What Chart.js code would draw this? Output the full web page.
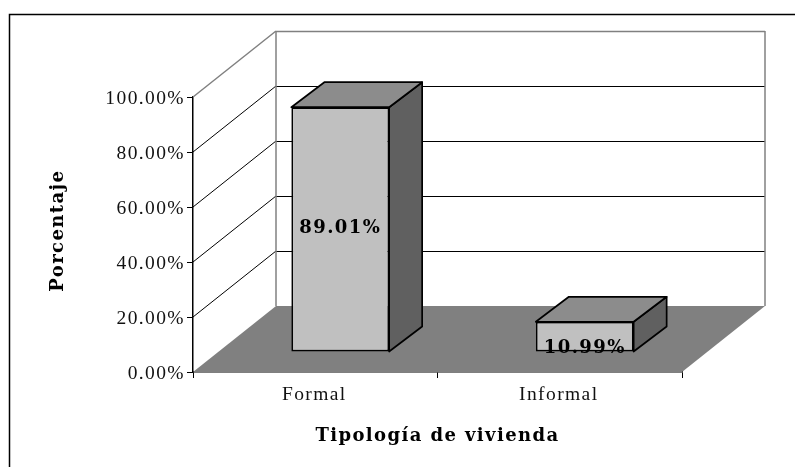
<!DOCTYPE html>
<html><head><meta charset="utf-8">
<style>html,body{margin:0;padding:0;background:#fff}canvas{display:block}</style>
<script src="https://cdn.jsdelivr.net/npm/chart.js@4"></script>
</head><body>
<canvas id="c" width="795" height="467" style="width:795px;height:467px"></canvas>
<script>
const categories = ['Formal','Informal'];
const values = [89.01,10.99];
const valueLabels = ['89.01%','10.99%'];
const yTicks = [0,20,40,60,80,100];
const xTitle = 'Tipología de vivienda';
const yTitle = 'Porcentaje';

const TICK_FONT = '"Liberation Serif"';
const BOLD_FONT = '"DejaVu Serif"';
const DX = 83, DY = 66;       // chart depth
const BX = 25, BY = 20;       // bar front offset
const BDX = 33, BDY = 25;     // bar depth

function poly(ctx, pts, fill, stroke, lw){
  ctx.beginPath();
  pts.forEach((p,i)=> i?ctx.lineTo(p[0],p[1]):ctx.moveTo(p[0],p[1]));
  ctx.closePath();
  if(fill){ctx.fillStyle=fill;ctx.fill();}
  if(stroke){ctx.strokeStyle=stroke;ctx.lineWidth=lw||1;ctx.lineJoin='round';ctx.stroke();}
}
function line(ctx,a,b,color,w){
  ctx.beginPath();ctx.moveTo(a[0],a[1]);ctx.lineTo(b[0],b[1]);
  ctx.strokeStyle=color;ctx.lineWidth=w||1;ctx.stroke();
}

const scene = {
  id:'scene',
  beforeDraw(chart){
    chart.ctx.letterSpacing='1.4px';
  },
  beforeDatasetsDraw(chart){
    const {ctx,scales:{x,y}} = chart;
    const L=x.left,R=x.right,B=y.getPixelForValue(0),T=y.getPixelForValue(100);
    ctx.save();
    poly(ctx,[[L,B],[R,B],[R+DX,B-DY],[L+DX,B-DY]],'#808080');
    yTicks.forEach(v=>{
      if(v===0) return;
      const p=y.getPixelForValue(v);
      const c = v===100?'#808080':'#000';
      const w = v===100?1.5:1;
      line(ctx,[L,p],[L+DX,p-DY],c,w);
      line(ctx,[L+DX,Math.round(p-DY)+0.5],[R+DX,Math.round(p-DY)+0.5],c,w);
    });
    line(ctx,[L+DX,T-DY],[L+DX,B-DY],'#808080',1.5);
    line(ctx,[R+DX,T-DY],[R+DX,B-DY],'#808080',1.5);
    chart.getDatasetMeta(0).data.forEach(b=>{
      const l=b.x-b.width/2+BX,r=b.x+b.width/2+BX,t=b.y-BY,bt=b.base-BY;
      poly(ctx,[[r,t],[r+BDX,t-BDY],[r+BDX,bt-BDY],[r,bt]],'#606060','#000',1.7);
      poly(ctx,[[l,t],[l+BDX,t-BDY],[r+BDX,t-BDY],[r,t]],'#8c8c8c','#000',1.7);
    });
    ctx.restore();
    ctx.save();
    ctx.translate(BX,-BY);
  },
  afterDatasetsDraw(chart){
    const {ctx} = chart;
    ctx.restore();
    ctx.save();
    ctx.font='bold 18px '+BOLD_FONT;
    ctx.fillStyle='#000';
    ctx.textAlign='center';
    ctx.textBaseline='alphabetic';
    chart.getDatasetMeta(0).data.forEach((b,i)=>{
      const cx=b.x+BX, cy=(b.y+b.base)/2-BY;
      ctx.fillText(valueLabels[i],cx,i===0?cy+4:cy+16);
    });
    ctx.restore();
  },
  afterDraw(chart){
    const {ctx} = chart;
    ctx.save();
    ctx.strokeStyle='#000';ctx.lineWidth=1.5;
    ctx.beginPath();ctx.moveTo(9.5,467);ctx.lineTo(9.5,14.5);ctx.lineTo(795,14.5);ctx.stroke();
    ctx.restore();
  }
};

new Chart(document.getElementById('c'),{
  type:'bar',
  data:{labels:categories,datasets:[{
    data:values,
    backgroundColor:'#c0c0c0',
    borderColor:'#000',
    borderWidth:1.7,
    borderSkipped:false,
    barPercentage:0.4,
    categoryPercentage:1
  }]},
  plugins:[scene],
  options:{
    responsive:false,animation:false,
    layout:{padding:{left:0,right:113,top:97,bottom:0}},
    plugins:{legend:{display:false},tooltip:{enabled:false}},
    scales:{
      x:{
        afterFit(s){s.height=95;},
        grid:{display:true,drawOnChartArea:false,drawTicks:true,tickLength:6,color:'#000',lineWidth:1,offset:true},
        border:{display:true,color:'#000',width:1.5},
        ticks:{color:'#111',font:{family:TICK_FONT,size:19.5},padding:5,labelOffset:-1},
        title:{display:true,text:xTitle,color:'#000',font:{family:BOLD_FONT,size:18,weight:'bold'},padding:{top:0,bottom:20}}
      },
      y:{
        afterFit(s){s.width=193;},
        min:0,max:100,
        grid:{display:true,drawOnChartArea:false,drawTicks:true,tickLength:6,color:'#000',lineWidth:1},
        border:{display:true,color:'#000',width:1.5},
        ticks:{color:'#111',font:{family:TICK_FONT,size:19.5},padding:2,stepSize:20,labelOffset:2,callback:v=>v.toFixed(2)+'%'},
        title:{display:true,text:' '+yTitle,color:'#000',font:{family:BOLD_FONT,size:18,weight:'bold'},padding:{top:48,bottom:0}}
      }
    }
  }
});
</script>
</body></html>
